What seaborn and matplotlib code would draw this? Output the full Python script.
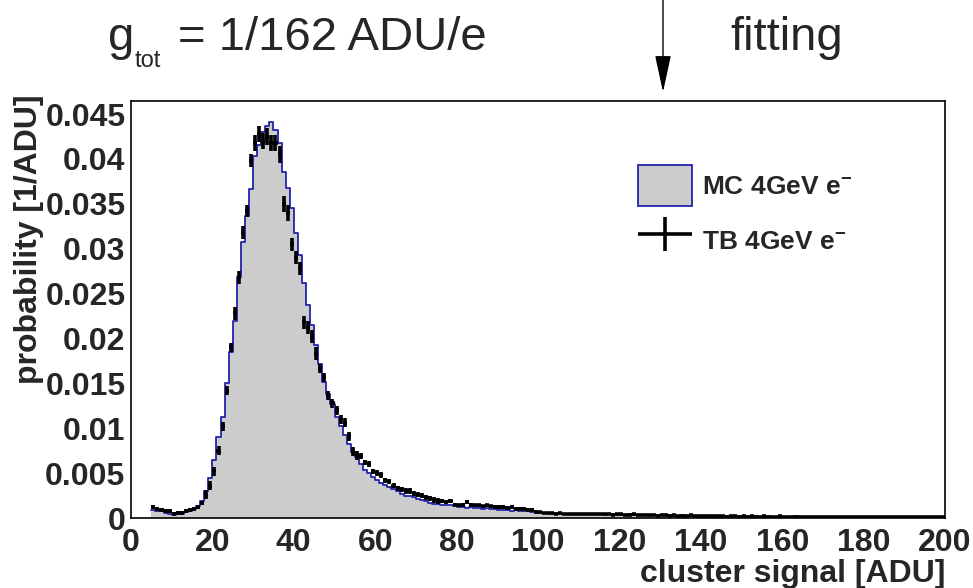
import numpy as np
import pandas as pd
import matplotlib
matplotlib.use("Agg")
import matplotlib.pyplot as plt
import seaborn as sns
from matplotlib.patches import Patch
from matplotlib.container import ErrorbarContainer
from matplotlib.legend_handler import HandlerErrorbar

# ---------------- data ----------------
bin_start = 5
bin_width = 1

mc_prob = [
    0.0009, 0.0008, 0.0008, 0.0006, 0.0004, 0.0003, 0.0004, 0.0005, 0.0007, 0.0008,
    0.0010, 0.0013, 0.0019, 0.0030, 0.0045, 0.0065, 0.0090, 0.0113, 0.0150, 0.0185,
    0.0220, 0.0268, 0.0308, 0.0337, 0.0366, 0.0403, 0.0416, 0.0430, 0.0437, 0.0441,
    0.0432, 0.0418, 0.0385, 0.0368, 0.0345, 0.0318, 0.0293, 0.0262, 0.0237, 0.0215,
    0.0193, 0.0172, 0.0152, 0.0138, 0.0127, 0.0112, 0.0102, 0.0093, 0.0083, 0.0074,
    0.0068, 0.0060, 0.0054, 0.0050, 0.0046, 0.0042, 0.0039, 0.0037, 0.0035, 0.0032,
    0.0030, 0.0027, 0.0025, 0.0024, 0.0023, 0.0021, 0.0020, 0.0019, 0.0017, 0.0016,
    0.0016, 0.0015, 0.0014, 0.0014, 0.0013, 0.0012, 0.0012, 0.0011, 0.0012, 0.0011,
    0.0011, 0.0010, 0.0011, 0.0010, 0.0010, 0.0009, 0.0009, 0.0009, 0.0008, 0.0009,
    0.0008, 0.0008, 0.0008, 0.0007, 0.0007, 0.0006, 0.0006, 0.0006, 0.0005, 0.0006,
    0.0005, 0.0005, 0.0005, 0.0004, 0.0005, 0.0004, 0.0004, 0.0005, 0.0004, 0.0004,
    0.0004, 0.0003, 0.0004, 0.0004, 0.0003, 0.0003, 0.0003, 0.0004, 0.0003, 0.0003,
    0.0003, 0.0003, 0.0002, 0.0003, 0.0003, 0.0003, 0.0002, 0.0003, 0.0002, 0.0002,
    0.0003, 0.0002, 0.0002, 0.0002, 0.0002, 0.0002, 0.0002, 0.0002, 0.0001, 0.0002,
    0.0002, 0.0002, 0.0001, 0.0002, 0.0002, 0.0001, 0.0002, 0.0001, 0.0002, 0.0001,
    0.0001, 0.0002, 0.0001, 0.0001, 0.0001, 0.0001, 0.0001, 0.0001, 0.0002, 0.0001,
    0.0001, 0.0001, 0.0001, 0.0001, 0.0001, 0.0001, 0.0001, 0.0001, 0.0001, 0.0001,
    0.0001, 0.0001, 0.0001, 0.0001, 0.0001, 0.0001, 0.0001, 0.0001, 0.0001, 0.0001,
    0.0001, 0.0001, 0.0001, 0.00005, 0.0001, 0.00005, 0.00005, 0.0001, 0.00005, 0.00005,
    0.00005, 0.00005, 0.0001, 0.00005, 0.00005,
]

tb_prob = [
    0.0012, 0.0010, 0.0009, 0.0008, 0.0008, 0.0005, 0.0006, 0.0006, 0.0008, 0.0009,
    0.0010, 0.0012, 0.0017, 0.0026, 0.0036, 0.0052, 0.0075, 0.0102, 0.0142, 0.0190,
    0.0228, 0.0268, 0.0318, 0.0342, 0.0398, 0.0418, 0.0428, 0.0420, 0.0425, 0.0418,
    0.0418, 0.0405, 0.0350, 0.0340, 0.0305, 0.0290, 0.0278, 0.0218, 0.0212, 0.0202,
    0.0183, 0.0167, 0.0157, 0.0137, 0.0128, 0.0120, 0.0110, 0.0106, 0.0091, 0.0074,
    0.0070, 0.0069, 0.0062, 0.0060, 0.0052, 0.0050, 0.0048, 0.0042, 0.0041, 0.0036,
    0.0033, 0.0032, 0.0030, 0.0030, 0.0027, 0.0026, 0.0025, 0.0023, 0.0022, 0.0020,
    0.0019, 0.0019, 0.0018, 0.0019, 0.0015, 0.0014, 0.0015, 0.0018, 0.0015, 0.0014,
    0.0014, 0.0013, 0.0014, 0.0013, 0.0012, 0.0012, 0.0012, 0.0011, 0.0012, 0.0010,
    0.0010, 0.0010, 0.0009, 0.0009, 0.0007, 0.0007, 0.0006, 0.0006, 0.0006, 0.0005,
    0.0006, 0.0005, 0.0005, 0.0004, 0.0005, 0.0004, 0.0004, 0.0004, 0.0005, 0.0004,
    0.0004, 0.0004, 0.0004, 0.0003, 0.0004, 0.0004, 0.0003, 0.0003, 0.0004, 0.0003,
    0.0003, 0.0003, 0.0003, 0.0003, 0.0002, 0.0003, 0.0003, 0.0002, 0.0003, 0.0002,
    0.0002, 0.0002, 0.0003, 0.0002, 0.0002, 0.0002, 0.0002, 0.0002, 0.0002, 0.0002,
    0.0002, 0.0001, 0.0002, 0.0002, 0.0001, 0.0002, 0.0001, 0.0002, 0.0001, 0.0001,
    0.0002, 0.0001, 0.0001, 0.0001, 0.0002, 0.0001, 0.0001, 0.0001, 0.0001, 0.0001,
    0.0001, 0.0001, 0.0001, 0.0001, 0.0001, 0.0001, 0.0001, 0.0001, 0.0001, 0.0001,
    0.0001, 0.0001, 0.0001, 0.0001, 0.0001, 0.0001, 0.0001, 0.0001, 0.0001, 0.0001,
    0.0001, 0.0001, 0.0001, 0.0001, 0.0001, 0.0001, 0.0001, 0.0001, 0.0001, 0.0001,
    0.0001, 0.0001, 0.0001, 0.0001, 0.0001,
]

tb_err = ([0.0002] * 13 + [0.0005] * 7 + [0.0007] * 5 + [0.0009] * 9 +
          [0.0007] * 7 + [0.0005] * 10 + [0.0003] * 20 + [0.0002] * 24 +
          [0.0001] * 100)

x_ticks = [0, 20, 40, 60, 80, 100, 120, 140, 160, 180, 200]
x_tick_labels = ["0", "20", "40", "60", "80", "100", "120", "140", "160", "180", "200"]
y_ticks = [0, 0.005, 0.01, 0.015, 0.02, 0.025, 0.03, 0.035, 0.04, 0.045]
y_tick_labels = ["0", "0.005", "0.01", "0.015", "0.02", "0.025", "0.03", "0.035", "0.04", "0.045"]

mc_label = r"MC 4GeV e$^{\mathbf{-}}$"
tb_label = r"TB 4GeV e$^{\mathbf{-}}$"

# ---------------- style ----------------
sns.set_style("white")
plt.rcParams["font.family"] = ["Liberation Sans", "DejaVu Sans"]
plt.rcParams["mathtext.fontset"] = "custom"
plt.rcParams["mathtext.rm"] = "Liberation Sans"
plt.rcParams["mathtext.bf"] = "Liberation Sans:bold"
plt.rcParams["mathtext.it"] = "Liberation Sans:italic"

fill_color = "#cccccc"
line_color = "#2323a8"

edges = [float(bin_start + bin_width * i) for i in range(len(mc_prob) + 1)]
centers = [e + 0.5 * bin_width for e in edges[:-1]]
df = pd.DataFrame({"signal": centers, "mc": mc_prob, "tb": tb_prob, "err": tb_err})

W, H = 973, 588
fig = plt.figure(figsize=(W / 100, H / 100), dpi=100)
fig.patch.set_facecolor("white")
ax = fig.add_axes([131 / W, 1 - 518 / H, (945 - 131) / W, (518 - 101) / H])

sns.histplot(data=df, x="signal", weights="mc", bins=edges, element="step",
             fill=True, color=fill_color, alpha=1, linewidth=0, ax=ax)
sns.histplot(data=df, x="signal", weights="mc", bins=edges, element="step",
             fill=False, color=line_color, linewidth=1.3, ax=ax)
eb = ax.errorbar(df["signal"], df["tb"], xerr=0.5 * bin_width, yerr=df["err"],
                 fmt="none", ecolor="black", elinewidth=2.6, capsize=0, zorder=5)

ax.set_xlim(0, 200)
ax.set_ylim(0, 0.04646)

ax.set_xticks(x_ticks)
ax.set_xticklabels(x_tick_labels, fontsize=23, fontweight="bold")
ax.set_yticks(y_ticks)
ax.set_yticklabels(y_tick_labels, fontsize=23, fontweight="bold")
ax.set_xticks(np.arange(0, 201, 5), minor=True)
ax.set_yticks(np.arange(0, 0.0461, 0.001), minor=True)
ax.tick_params(axis="both", which="both", direction="in", top=False, right=False,
               color="black", width=1.0)
ax.tick_params(axis="x", which="major", length=8.6, pad=7)
ax.tick_params(axis="x", which="minor", length=4.5)
ax.tick_params(axis="y", which="major", length=17, pad=4)
ax.tick_params(axis="y", which="minor", length=9)

for s in ax.spines.values():
    s.set_visible(True)
    s.set_color("black")
    s.set_linewidth(1.2)

ax.set_xlabel("cluster signal [ADU]", fontsize=23, fontweight="bold", loc="right")
ax.xaxis.set_label_coords(1.0, -0.098)
ax.set_ylabel("probability [1/ADU]", fontsize=23, fontweight="bold", loc="top")
ax.yaxis.set_label_coords(-0.107, 1.015)

handles = [Patch(facecolor=fill_color, edgecolor=line_color, linewidth=1.3), eb]
ax.legend(handles, [mc_label, tb_label], loc="upper left",
          bbox_to_anchor=(638 / W, 1 - 165 / H), bbox_transform=fig.transFigure,
          frameon=False, borderpad=0, borderaxespad=0, handlelength=2.05,
          handleheight=2.0, labelspacing=0.53, handletextpad=0.38,
          prop={"weight": "bold", "size": 19},
          handler_map={ErrorbarContainer: HandlerErrorbar(xerr_size=1.02, yerr_size=0.65)})

# ---------------- annotations above the frame ----------------
fig.text(108 / W, 1 - 50 / H, "g", fontsize=34, va="baseline", ha="left")
fig.text(135 / W, 1 - 67 / H, "tot", fontsize=17, va="baseline", ha="left")
fig.text(178 / W, 1 - 50 / H, "= 1/162 ADU/e", fontsize=34, va="baseline", ha="left")
fig.text(730 / W, 1 - 50 / H, "fitting", fontsize=34, va="baseline", ha="left")
ax.annotate("", xy=(663 / W, 1 - 92 / H), xytext=(663 / W, 1.0),
            xycoords="figure fraction", textcoords="figure fraction",
            arrowprops=dict(arrowstyle="-|>,head_length=2.3,head_width=0.5",
                            mutation_scale=10, lw=1, color="black",
                            shrinkA=0, shrinkB=0))

fig.savefig("out.png", dpi=100)
